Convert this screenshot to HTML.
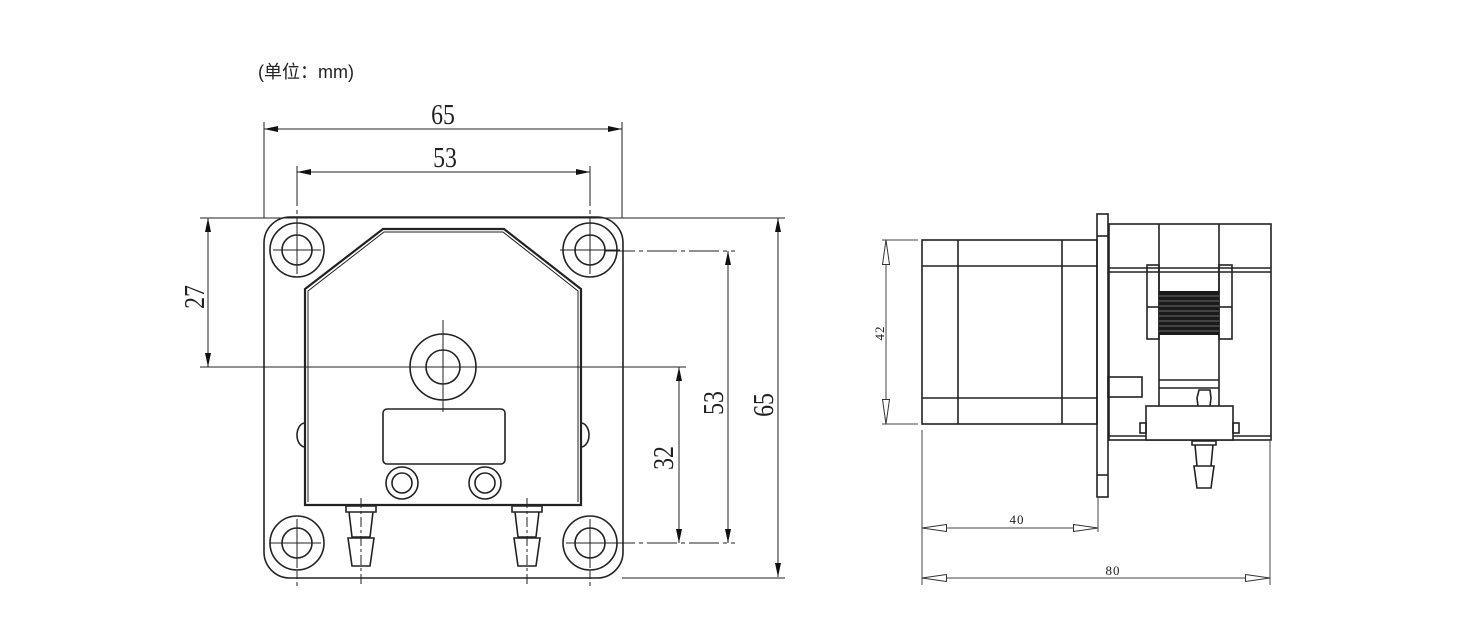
<!DOCTYPE html>
<html><head><meta charset="utf-8"><style>
html,body{margin:0;padding:0;background:#fff;}
svg{display:block}
.d{font-family:"Liberation Serif",serif;font-size:28px;fill:#222}
.s{font-family:"Liberation Serif",serif;font-size:13px;fill:#222}
</style></head><body>
<svg width="1484" height="642" viewBox="0 0 1484 642" xmlns="http://www.w3.org/2000/svg">
<defs>
<marker id="a" markerWidth="14" markerHeight="6" refX="14" refY="3" orient="auto-start-reverse" markerUnits="userSpaceOnUse"><path d="M14,3 L0,0 L0,6 Z" fill="#111"/></marker>
<marker id="o" markerWidth="26" markerHeight="8" refX="25.5" refY="4" orient="auto-start-reverse" markerUnits="userSpaceOnUse"><path d="M25.5,4 L1,0.5 L1,7.5 Z" fill="#fff" stroke="#333" stroke-width="1"/></marker>
</defs>
<text x="258" y="78" font-family="Liberation Sans, Noto Sans CJK SC, sans-serif" font-size="18" fill="#222">(单位：mm)</text>

<g fill="none" stroke="#222" stroke-width="1">
<line x1="264" y1="122" x2="264" y2="218"/>
<line x1="622" y1="122" x2="622" y2="218"/>
<line x1="297" y1="166" x2="297" y2="230" stroke-dasharray="40 4 4 4"/>
<line x1="590" y1="166" x2="590" y2="230" stroke-dasharray="40 4 4 4"/>
<line x1="200" y1="218" x2="785" y2="218"/>
<line x1="200" y1="367" x2="400" y2="367"/>
<line x1="490" y1="367" x2="686" y2="367"/>
<line x1="605" y1="251" x2="735" y2="251" stroke-dasharray="30 4 4 4"/>
<line x1="605" y1="543" x2="735" y2="543" stroke-dasharray="30 4 4 4"/>
<line x1="622" y1="578" x2="785" y2="578"/>
<line x1="297" y1="560" x2="297" y2="586" stroke-dasharray="8 3"/>
<line x1="590" y1="560" x2="590" y2="586" stroke-dasharray="8 3"/>
<line x1="361" y1="498" x2="361" y2="586" stroke-dasharray="10 3 3 3"/>
<line x1="527" y1="498" x2="527" y2="586" stroke-dasharray="10 3 3 3"/>
<line x1="264" y1="129" x2="622" y2="129" marker-start="url(#a)" marker-end="url(#a)"/>
<line x1="297" y1="172" x2="590" y2="172" marker-start="url(#a)" marker-end="url(#a)"/>
<line x1="208" y1="218" x2="208" y2="367" marker-start="url(#a)" marker-end="url(#a)"/>
<line x1="679" y1="367" x2="679" y2="543" marker-start="url(#a)" marker-end="url(#a)"/>
<line x1="728" y1="251" x2="728" y2="543" marker-start="url(#a)" marker-end="url(#a)"/>
<line x1="778" y1="218" x2="778" y2="577" marker-start="url(#a)" marker-end="url(#a)"/>
</g>
<text class="d" text-anchor="middle" transform="translate(443 124) scale(0.85 1)">65</text>
<text class="d" text-anchor="middle" transform="translate(445 167) scale(0.85 1)">53</text>
<text class="d" text-anchor="middle" transform="translate(204 297) rotate(-90) scale(0.85 1)">27</text>
<text class="d" text-anchor="middle" transform="translate(673 458) rotate(-90) scale(0.85 1)">32</text>
<text class="d" text-anchor="middle" transform="translate(723 403) rotate(-90) scale(0.85 1)">53</text>
<text class="d" text-anchor="middle" transform="translate(773 405) rotate(-90) scale(0.85 1)">65</text>

<g fill="none" stroke="#222" stroke-width="1.6">
<rect x="264" y="217" width="359" height="361" rx="26"/>
<circle cx="297" cy="250" r="27"/><circle cx="297" cy="250" r="15"/>
<circle cx="590" cy="250" r="27"/><circle cx="590" cy="250" r="15"/>
<circle cx="297" cy="543" r="27"/><circle cx="297" cy="543" r="15"/>
<circle cx="590" cy="543" r="27"/><circle cx="590" cy="543" r="15"/>
<path d="M305,505 L305,289 L383,229 L504,229 L581,289 L581,505 Z" stroke-width="2.2"/>
<path d="M308,502 L308,291 L384,232 L503,232 L578,291 L578,502" stroke-width="1"/>
<path d="M305,423 A8,12 0 0 0 305,447"/>
<path d="M581,423 A8,12 0 0 1 581,447"/>
<circle cx="443" cy="367" r="33"/><circle cx="443" cy="367" r="17"/>
<rect x="383" y="409" width="122" height="55" rx="4"/>
<circle cx="402" cy="483" r="16"/><circle cx="402" cy="483" r="10"/>
<circle cx="485" cy="483" r="16"/><circle cx="485" cy="483" r="10"/>
<path d="M346,506 h30 v6 h-30 Z M349,512 L352,537 h18 L373,512 M348,538 h26 l-4,28 h-18 Z"/>
<path d="M512,506 h30 v6 h-30 Z M515,512 L518,537 h18 L539,512 M514,538 h26 l-4,28 h-18 Z"/>
</g>
<g stroke="#222" stroke-width="1">
<line x1="297" y1="226" x2="297" y2="274"/><line x1="273" y1="250" x2="321" y2="250"/>
<line x1="590" y1="226" x2="590" y2="274"/><line x1="560" y1="250" x2="620" y2="250"/>
<line x1="297" y1="519" x2="297" y2="567"/><line x1="270" y1="543" x2="321" y2="543"/>
<line x1="590" y1="519" x2="590" y2="567"/><line x1="566" y1="543" x2="620" y2="543"/>
<line x1="443" y1="320" x2="443" y2="412"/><line x1="395" y1="367" x2="492" y2="367"/>
</g>

<g fill="none" stroke="#222" stroke-width="1.6">
<rect x="922" y="240" width="175" height="184"/>
<line x1="958" y1="240" x2="958" y2="424"/>
<line x1="1062" y1="240" x2="1062" y2="424"/>
<line x1="922" y1="266" x2="1097" y2="266"/>
<line x1="922" y1="398" x2="1097" y2="398"/>
<rect x="1097" y="214" width="11" height="283"/>
<line x1="1097" y1="236" x2="1108" y2="236"/>
<line x1="1097" y1="475" x2="1108" y2="475"/>
<rect x="1109" y="224" width="162" height="216"/>
<line x1="1109" y1="268" x2="1271" y2="268"/>
<line x1="1109" y1="272" x2="1271" y2="272"/>
<line x1="1159" y1="224" x2="1159" y2="406"/>
<line x1="1219" y1="224" x2="1219" y2="406"/>
<rect x="1147" y="265" width="12" height="74"/>
<rect x="1219" y="265" width="13" height="74"/>
<line x1="1147" y1="307" x2="1159" y2="307"/>
<line x1="1219" y1="307" x2="1232" y2="307"/>
<line x1="1159" y1="380" x2="1219" y2="380"/>
<line x1="1159" y1="388" x2="1219" y2="388"/>
<rect x="1108" y="377" width="34" height="20"/>
<rect x="1146" y="406" width="87" height="34" fill="#fff"/>
<rect x="1140" y="423" width="6" height="10"/>
<rect x="1233" y="423" width="6" height="10"/>
<line x1="1109" y1="436" x2="1146" y2="436"/>
<line x1="1233" y1="436" x2="1271" y2="436"/>
<path d="M1198,406 L1197,398 L1199,390 h11 L1211,398 L1210,406"/>
<path d="M1192,441 h24 v4 h-24 Z M1195,445 L1197,466 h14 L1213,445 M1194,466 h20 l-3,22 h-14 Z"/>
</g>
<rect x="1159" y="291" width="60" height="44" fill="#1a1a1a"/>
<g stroke="#888" stroke-width="0.8">
<line x1="1159" y1="296" x2="1219" y2="296"/><line x1="1159" y1="301" x2="1219" y2="301"/>
<line x1="1159" y1="306" x2="1219" y2="306"/><line x1="1159" y1="311" x2="1219" y2="311"/>
<line x1="1159" y1="316" x2="1219" y2="316"/><line x1="1159" y1="321" x2="1219" y2="321"/>
<line x1="1159" y1="326" x2="1219" y2="326"/><line x1="1159" y1="331" x2="1219" y2="331"/>
</g>
<g fill="none" stroke="#444" stroke-width="1">
<line x1="882" y1="240" x2="918" y2="240"/>
<line x1="882" y1="424" x2="918" y2="424"/>
<line x1="886" y1="240" x2="886" y2="424" marker-start="url(#o)" marker-end="url(#o)"/>
<line x1="922" y1="430" x2="922" y2="585"/>
<line x1="1098" y1="497" x2="1098" y2="532"/>
<line x1="1270" y1="440" x2="1270" y2="585"/>
<line x1="922" y1="528" x2="1098" y2="528" marker-start="url(#o)" marker-end="url(#o)"/>
<line x1="922" y1="578" x2="1270" y2="578" marker-start="url(#o)" marker-end="url(#o)"/>
</g>
<text class="s" x="1017" y="524" text-anchor="middle" letter-spacing="1">40</text>
<text class="s" x="1113" y="575" text-anchor="middle" letter-spacing="1">80</text>
<text class="s" text-anchor="middle" letter-spacing="1" transform="translate(884 333) rotate(-90)">42</text>
</svg>
</body></html>
